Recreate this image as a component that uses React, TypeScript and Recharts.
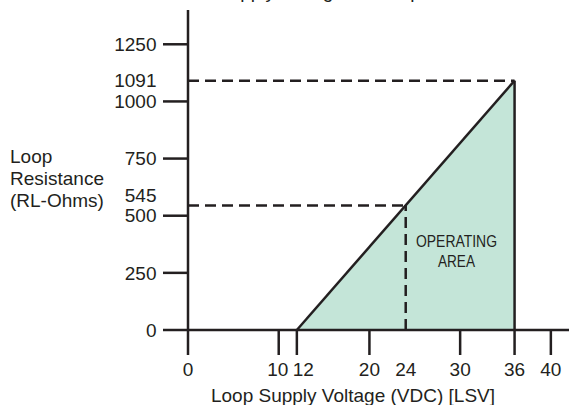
import React from 'react';
import { ComposedChart, Area, XAxis, YAxis, ReferenceLine, ReferenceDot } from 'recharts';

// ---- data ----
const voltageTicks = [0, 10, 12, 20, 24, 30, 36, 40];
const resistanceTicks = [0, 250, 500, 545, 750, 1000, 1091, 1250];
const unmarkedVoltageTicks = [24];
const unmarkedResistanceTicks = [545, 1091];
const lineVoltage = [12, 36];
const lineResistance = [0, 1091];
const guideVoltage = [24, 36];
const guideResistance = [545, 1091];
const areaLabelLines = ['OPERATING', 'AREA'];
const yLabelLines = ['Loop', 'Resistance', '(RL-Ohms)'];
const xLabelText = 'Loop Supply Voltage (VDC) [LSV]';
const titleText = 'Supply Voltage vs. Loop Resistance';

// ---- layout / style ----
const X_DOMAIN: [number, number] = [0, 42];
const Y_DOMAIN: [number, number] = [0, 1400];
const AREA_LABEL_AT = { x: 29.6, y: 364 };
const SOLID_VERTICAL_AT = 36;
const INK = '#231f20';
const FILL = '#c4e5d8';
const FONT = '"Liberation Sans", Arial, Helvetica, sans-serif';
const FS = 19;
const SW = 2.5;
const DASH = '11 6';

const areaData = lineVoltage.map((v, i) => ({ v, r: lineResistance[i] }));

const XTick = (props: any) => {
  const { x, y, payload } = props;
  const v = payload.value;
  const marked = !unmarkedVoltageTicks.includes(v);
  // nudge crowded labels apart
  const dx = v === 12 ? 6.5 : v === 10 ? -1 : 0;
  return (
    <g>
      {marked && <line x1={x} x2={x} y1={y} y2={y + 25} stroke={INK} strokeWidth={SW} />}
      <text x={x + dx} y={y + 46} textAnchor="middle" fontSize={FS} fill={INK} fontFamily={FONT}>
        {v}
      </text>
    </g>
  );
};

const YTick = (props: any) => {
  const { x, y, payload } = props;
  const v = payload.value;
  const marked = !unmarkedResistanceTicks.includes(v);
  // nudge crowded label up so it does not collide with 500
  const dy = v === 545 ? -10 : 0;
  return (
    <g>
      {marked && <line x1={x - 25} x2={x} y1={y} y2={y} stroke={INK} strokeWidth={SW} />}
      <text x={x - 31.5} y={y + dy} dy="0.355em" textAnchor="end" fontSize={FS} fill={INK} fontFamily={FONT}>
        {v}
      </text>
    </g>
  );
};

const YLabel = (props: any) => {
  const vb = props.viewBox || { x: 0, y: 10 };
  return (
    <g>
      <text x={vb.x + 217} y={vb.y - 12} textAnchor="start" fontSize={FS} fill={INK} fontFamily={FONT}>
        {titleText}
      </text>
      {yLabelLines.map((t, i) => (
        <text key={t} x={vb.x + 10} y={vb.y + 153 + i * 21.75} textAnchor="start" fontSize={FS} fill={INK} fontFamily={FONT}>
          {t}
        </text>
      ))}
    </g>
  );
};

const XLabel = (props: any) => {
  const vb = props.viewBox || { x: 188, y: 330 };
  return (
    <text x={vb.x + 165} y={vb.y + 71.5} textAnchor="middle" fontSize={FS} fill={INK} fontFamily={FONT}>
      {xLabelText}
    </text>
  );
};

const AreaLabel = (props: any) => {
  const vb = props.viewBox || { x: 0, y: 0, width: 0, height: 0 };
  const cx = vb.x + (vb.width || 0) / 2;
  const cy = vb.y + (vb.height || 0) / 2;
  const widths = [81, 37];
  return (
    <g>
      {areaLabelLines.map((t, i) => (
        <text
          key={t}
          x={cx}
          y={cy + i * 20}
          textAnchor="middle"
          fontSize={16.5}
          fill={INK}
          fontFamily={FONT}
          textLength={widths[i]}
          lengthAdjust="spacingAndGlyphs"
        >
          {t}
        </text>
      ))}
    </g>
  );
};

export default function App() {
  return (
    <div style={{ position: 'absolute', left: 0, top: 0, width: 569, height: 405, background: '#fff' }}>
      <ComposedChart
        width={569}
        height={405}
        data={areaData}
        margin={{ top: 10, right: 0, bottom: 0, left: 0 }}
      >
        <XAxis
          dataKey="v"
          type="number"
          domain={X_DOMAIN}
          ticks={voltageTicks}
          interval={0}
          height={75}
          tickSize={0}
          tickMargin={0}
          tickLine={false}
          axisLine={{ stroke: INK, strokeWidth: SW }}
          tick={<XTick />}
          label={{ content: <XLabel /> }}
        />
        <YAxis
          type="number"
          domain={Y_DOMAIN}
          ticks={resistanceTicks}
          interval={0}
          width={188}
          tickSize={0}
          tickMargin={0}
          tickLine={false}
          axisLine={{ stroke: INK, strokeWidth: SW }}
          tick={<YTick />}
          label={{ content: <YLabel /> }}
        />
        <Area
          type="linear"
          dataKey="r"
          stroke={INK}
          strokeWidth={SW}
          fill={FILL}
          fillOpacity={1}
          dot={false}
          activeDot={false}
          isAnimationActive={false}
        />
        {guideVoltage.map((gv, i) => (
          <ReferenceLine
            key={'h' + i}
            segment={[{ x: 0, y: guideResistance[i] }, { x: gv, y: guideResistance[i] }]}
            stroke={INK}
            strokeWidth={SW}
            strokeDasharray={DASH}
          />
        ))}
        {guideVoltage.map((gv, i) => (
          <ReferenceLine
            key={'v' + i}
            segment={[{ x: gv, y: 0 }, { x: gv, y: guideResistance[i] }]}
            stroke={INK}
            strokeWidth={SW}
            strokeDasharray={gv === SOLID_VERTICAL_AT ? undefined : DASH}
          />
        ))}
        <ReferenceDot
          x={AREA_LABEL_AT.x}
          y={AREA_LABEL_AT.y}
          r={1}
          fill="none"
          stroke="none"
          label={{ content: <AreaLabel /> }}
        />
      </ComposedChart>
    </div>
  );
}
